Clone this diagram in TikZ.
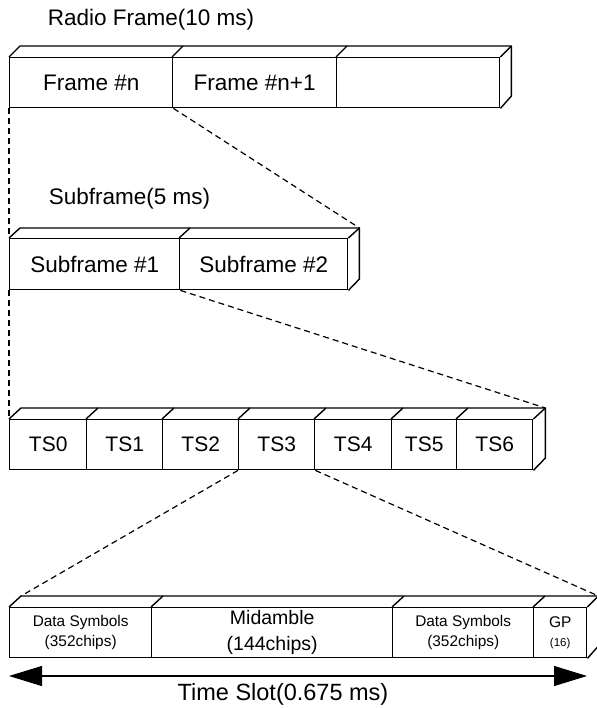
\documentclass[tikz,border=0pt]{standalone}
\usepackage{fontspec}
\setmainfont{Liberation Sans}
\usetikzlibrary{calc,arrows.meta}
\tikzset{
  cell/.style={draw, line width=1.4pt, inner sep=0pt, minimum height=50pt, anchor=north west, align=center},
  big/.style={font=\fontsize{22.5}{27}\selectfont},
  tsf/.style={font=\fontsize{21}{25}\selectfont},
  face/.style={line width=1.4pt, line join=round},
  dashc/.style={line width=1.2pt, dash pattern=on 6pt off 4pt},
  timearrow/.style={line width=1.2pt, {Triangle[length=33pt,width=20pt]}-{Triangle[length=33pt,width=20pt]}}
}
\begin{document}
\begin{tikzpicture}[x=1pt,y=-1pt]
\useasboundingbox (0,0) rectangle (596,708);

% Row 1: Radio frame
\node[big] (rft) at (151,20) {Radio Frame(10 ms)};
\node[cell,big,minimum width=163pt] (f1) at (9,57) {Frame \#n};
\node[cell,big,minimum width=164pt] (f2) at (172,57) {Frame \#n+1};
\node[cell,big,minimum width=163pt] (f3) at (336,57) {};
\draw[face] (f1.north west) -- ++(11,-11) -- ($(f3.north east)+(11,-11)$) -- ++(0,50) -- (f3.south east);
\draw[face] (f3.north east) -- ++(11,-11);
\draw[face] (f2.north west) -- ++(11,-11);
\draw[face] (f3.north west) -- ++(11,-11);

% Row 2: Subframes
\node[big] (sft) at (129.5,199) {Subframe(5 ms)};
\node[cell,big,minimum width=170pt,minimum height=51pt] (s1) at (9,238) {Subframe \#1};
\node[cell,big,minimum width=168pt,minimum height=51pt] (s2) at (179,238) {Subframe \#2};
\coordinate (s2b) at ($(s2.north east)+(11,-10)$);
\draw[face] (s1.north west) -- ++(11,-10) -- (s2b) -- ++(0,51) -- (s2.south east);
\draw[face] (s2.north east) -- (s2b);
\draw[face] (s2.north west) -- ++(11,-10);

% Row 3: Time slots
\node[cell,tsf,minimum width=77pt] (t0) at (9,419) {TS0};
\node[cell,tsf,minimum width=76pt] (t1) at (86,419) {TS1};
\node[cell,tsf,minimum width=76pt] (t2) at (162,419) {TS2};
\node[cell,tsf,minimum width=76pt] (t3) at (238,419) {TS3};
\node[cell,tsf,minimum width=77pt] (t4) at (314,419) {TS4};
\node[cell,tsf,minimum width=65pt] (t5) at (391,419) {TS5};
\node[cell,tsf,minimum width=76pt] (t6) at (456,419) {TS6};
\coordinate (t6b) at ($(t6.north east)+(12,-11)$);
\draw[face] (t0.north west) -- ++(12,-11) -- (t6b) -- ++(0,50) -- (t6.south east);
\draw[face] (t6.north east) -- (t6b);
\foreach \n in {t1,t2,t3,t4,t5,t6} \draw[face] (\n.north west) -- ++(12,-11);

% Row 4: Time slot structure
\node[cell,minimum width=142pt,font=\fontsize{15.4}{20}\selectfont] (d1) at (9,607) {Data Symbols\\(352chips)};
\node[cell,minimum width=241pt,font=\fontsize{19.5}{25.5}\selectfont] (mid) at (151,607) {Midamble\\(144chips)};
\node[cell,minimum width=141pt,font=\fontsize{15.4}{20}\selectfont] (d2) at (392,607) {Data Symbols\\(352chips)};
\node[cell,minimum width=53pt,font=\fontsize{15.5}{19}\selectfont] (gp) at (533,607) {GP\\{\fontsize{11.5}{19}\selectfont(16)}};
\coordinate (d1b) at ($(d1.north west)+(12,-11)$);
\coordinate (gpb) at ($(gp.north east)+(11,-11)$);
\draw[face] (d1.north west) -- (d1b) -- (gpb) -- ++(0,50) -- (gp.south east);
\draw[face] (gp.north east) -- (gpb);
\foreach \n in {mid,d2,gp} \draw[face] (\n.north west) -- ++(12,-11);

% Dashed zoom connectors
\draw[dashc] (f1.south west) -- (s1.north west);
\draw[dashc] (f1.south east) -- (s2b);
\draw[dashc] (s1.south west) -- (t0.north west);
\draw[dashc] (s1.south east) -- (t6b);
\draw[dashc] (t3.south west) -- (d1b);
\draw[dashc] (t3.south east) -- (gpb);

% Time slot arrow
\coordinate (al) at (9,676);
\coordinate (ar) at (587,676);
\draw[timearrow] (al) -- (ar);
\node[font=\fontsize{23.5}{28}\selectfont] (tst) at (283,694) {Time Slot(0.675 ms)};
\end{tikzpicture}
\end{document}
